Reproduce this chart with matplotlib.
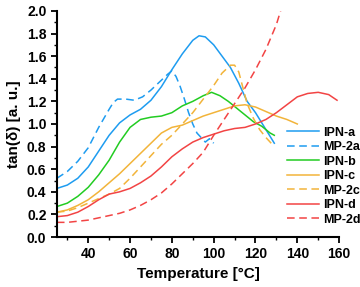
import matplotlib
matplotlib.use("Agg")
import matplotlib.pyplot as plt
from matplotlib.ticker import MultipleLocator

plt.rcParams['font.family'] = ['Liberation Sans', 'DejaVu Sans']
plt.rcParams['font.weight'] = 'bold'

# tan(delta) curves
ipn_a_t = [25, 30, 35, 40, 45, 50, 55, 60, 65, 70, 75, 80, 85, 90, 93, 96, 100, 104, 108, 112, 116, 120, 124, 128, 129]
ipn_a = [0.43, 0.46, 0.52, 0.62, 0.76, 0.90, 1.01, 1.08, 1.13, 1.21, 1.33, 1.48, 1.62, 1.74, 1.78, 1.77, 1.70, 1.60, 1.50, 1.36, 1.20, 1.10, 0.98, 0.86, 0.83]

mp_2a_t = [25, 30, 35, 40, 45, 50, 52, 54, 58, 62, 66, 70, 74, 78, 80, 82, 84, 86, 88, 90, 92, 94, 96, 98, 100]
mp_2a = [0.52, 0.58, 0.67, 0.79, 0.97, 1.13, 1.19, 1.22, 1.22, 1.21, 1.24, 1.30, 1.37, 1.44, 1.47, 1.42, 1.33, 1.22, 1.10, 1.00, 0.92, 0.88, 0.84, 0.87, 0.83]

ipn_b_t = [25, 30, 35, 40, 45, 50, 55, 60, 65, 70, 75, 80, 85, 90, 95, 99, 103, 107, 111, 115, 119, 123, 127, 129]
ipn_b = [0.27, 0.30, 0.36, 0.44, 0.55, 0.68, 0.84, 0.97, 1.04, 1.06, 1.07, 1.10, 1.16, 1.20, 1.25, 1.28, 1.25, 1.20, 1.14, 1.08, 1.02, 0.98, 0.92, 0.90]

ipn_c_t = [25, 30, 35, 40, 45, 50, 55, 60, 65, 70, 75, 80, 85, 90, 95, 100, 105, 110, 115, 120, 125, 130, 135, 140]
ipn_c = [0.22, 0.24, 0.28, 0.33, 0.40, 0.48, 0.56, 0.65, 0.74, 0.83, 0.92, 0.97, 0.99, 1.03, 1.07, 1.10, 1.13, 1.16, 1.17, 1.15, 1.11, 1.07, 1.04, 1.00]

mp_2c_t = [25, 30, 35, 40, 45, 50, 55, 60, 65, 70, 75, 80, 85, 90, 95, 100, 104, 108, 110, 112, 114, 116, 119, 122, 125, 129]
mp_2c = [0.22, 0.23, 0.26, 0.30, 0.34, 0.38, 0.43, 0.52, 0.62, 0.72, 0.82, 0.90, 1.00, 1.10, 1.22, 1.34, 1.45, 1.52, 1.52, 1.46, 1.32, 1.18, 1.05, 0.95, 0.88, 0.80]

ipn_d_t = [25, 30, 35, 40, 45, 50, 55, 60, 65, 70, 75, 80, 85, 90, 95, 100, 105, 110, 115, 120, 125, 130, 135, 140, 145, 150, 155, 159]
ipn_d = [0.18, 0.19, 0.22, 0.27, 0.33, 0.38, 0.40, 0.43, 0.48, 0.54, 0.62, 0.71, 0.78, 0.84, 0.88, 0.91, 0.94, 0.96, 0.97, 1.00, 1.04, 1.10, 1.17, 1.24, 1.27, 1.28, 1.26, 1.21]

mp_2d_t = [25, 30, 35, 40, 45, 50, 55, 60, 65, 70, 75, 80, 85, 90, 95, 100, 105, 110, 115, 120, 125, 130, 132]
mp_2d = [0.13, 0.13, 0.14, 0.15, 0.17, 0.19, 0.21, 0.24, 0.28, 0.33, 0.39, 0.47, 0.56, 0.65, 0.75, 0.90, 1.04, 1.18, 1.32, 1.48, 1.66, 1.88, 2.0]

blue = '#1e9cf0'
green = '#22cc22'
orange = '#f2b43a'
red = '#f24444'

fig = plt.figure(figsize=(3.6, 2.87), dpi=100)
ax = fig.add_axes([0.158, 0.174, 0.784, 0.788])

ax.plot(ipn_a_t, ipn_a, color=blue, lw=1.1, label='IPN-a')
ax.plot(mp_2a_t, mp_2a, color=blue, lw=1.1, ls=(0, (5, 3)), label='MP-2a')
ax.plot(ipn_b_t, ipn_b, color=green, lw=1.1, label='IPN-b')
ax.plot(ipn_c_t, ipn_c, color=orange, lw=1.1, label='IPN-c')
ax.plot(mp_2c_t, mp_2c, color=orange, lw=1.1, ls=(0, (5, 3)), label='MP-2c')
ax.plot(ipn_d_t, ipn_d, color=red, lw=1.1, label='IPN-d')
ax.plot(mp_2d_t, mp_2d, color=red, lw=1.1, ls=(0, (5, 3)), label='MP-2d')

ax.set_xlim(25, 160)
ax.set_ylim(0, 2.0)
ax.set_xticks([40, 60, 80, 100, 120, 140, 160])
ax.xaxis.set_minor_locator(MultipleLocator(10))
ax.yaxis.set_major_locator(MultipleLocator(0.2))
ax.yaxis.set_minor_locator(MultipleLocator(0.1))
ax.yaxis.set_major_formatter(plt.FormatStrFormatter('%.1f'))

for s in ['top', 'right']:
    ax.spines[s].set_visible(False)
for s in ['left', 'bottom']:
    ax.spines[s].set_linewidth(1.5)
ax.tick_params(which='major', direction='out', length=4, width=1.3, labelsize=10)
ax.tick_params(which='minor', direction='out', length=2.5, width=1)

ax.set_xlabel('Temperature [°C]', fontsize=11, fontweight='bold')
ax.set_ylabel('tan(δ) [a. u.]', fontsize=11, fontweight='bold')

ax.legend(loc='lower right', bbox_to_anchor=(1.115, 0.0), frameon=False,
          fontsize=9, handlelength=2.6, labelspacing=0.2, handletextpad=0.3)

fig.savefig('out.png', dpi=100)
